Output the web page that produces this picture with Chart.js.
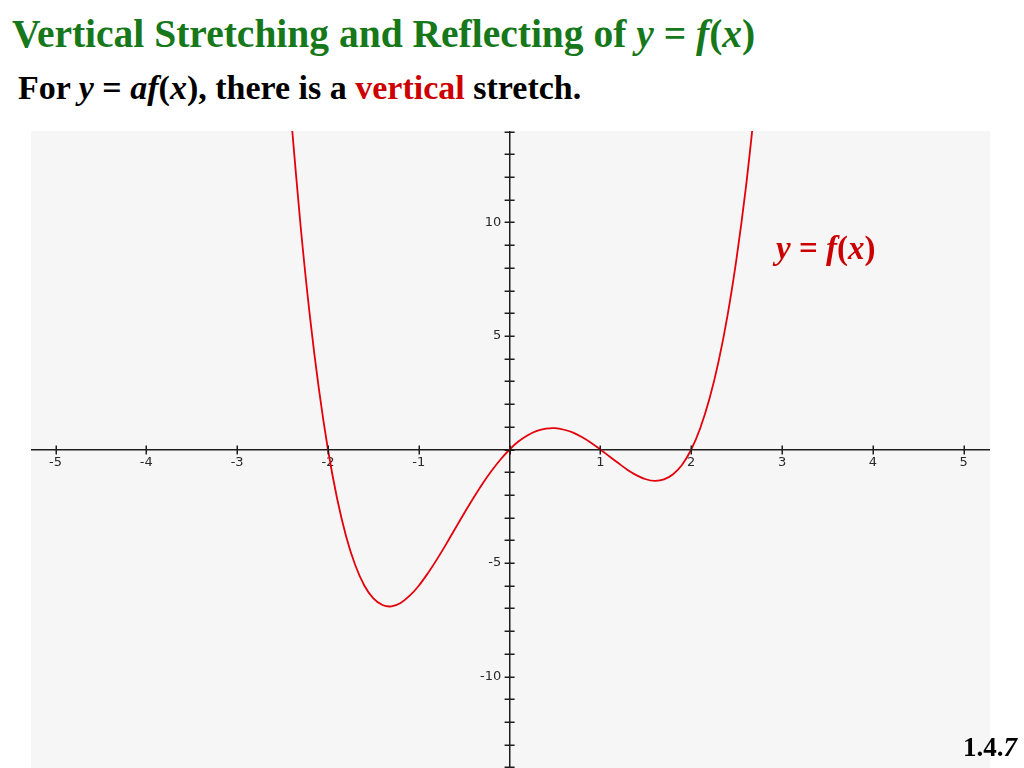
<!DOCTYPE html>
<html>
<head>
<meta charset="utf-8">
<script src="https://cdn.jsdelivr.net/npm/chart.js@4.4.1/dist/chart.umd.min.js"></script>
<style>
  body { margin: 0; width: 1024px; height: 768px; background: #fff; position: relative; overflow: hidden; }
  .txt { position: absolute; font-family: "Liberation Serif", "Times New Roman", serif; font-weight: bold; line-height: 1; white-space: nowrap; }
  #title { left: 12px; top: 15px; font-size: 39.5px; color: #16781a; }
  #sub { left: 18px; top: 71px; font-size: 34px; color: #000; }
  #sub .red { color: #cc0000; }
  #fx { left: 776px; top: 232px; font-size: 33px; color: #cc0000; }
  #page { left: 963px; top: 734px; font-size: 27px; color: #000; }
  #wrap { position: absolute; left: 31px; top: 131px; width: 959px; height: 637px; background: #f6f6f6; }
</style>
</head>
<body>
<div class="txt" id="title">Vertical Stretching and Reflecting of <i>y</i> = <i>f</i>(<i>x</i>)</div>
<div class="txt" id="sub">For <i>y</i> = <i>af</i>(<i>x</i>), there is a <span class="red">vertical</span> stretch.</div>
<div id="wrap"><canvas id="chart"></canvas></div>
<div class="txt" id="fx"><i>y</i> = <i>f</i>(<i>x</i>)</div>
<div class="txt" id="page">1.4.<i>7</i></div>
<script>
"use strict";

// axis window
var xMin = -5.27, xMax = 5.29;
var yMin = -14.03, yMax = 14.03;

// sampled points of the red curve
var curveX = [-2.4, -2.3, -2.2, -2.1, -2.0, -1.9, -1.8, -1.7, -1.6, -1.5, -1.4, -1.3, -1.2, -1.1, -1.0,
  -0.9, -0.8, -0.7, -0.6, -0.5, -0.4, -0.3, -0.2, -0.1, 0.0, 0.1, 0.2, 0.3, 0.4, 0.5, 0.6, 0.7, 0.8, 0.9,
  1.0, 1.1, 1.2, 1.3, 1.4, 1.5, 1.6, 1.7, 1.8, 1.9, 2.0, 2.1, 2.2, 2.3, 2.4, 2.5, 2.6, 2.7];
var curveY = [14.36, 9.79, 5.91, 2.67, 0, -2.15, -3.83, -5.09, -5.99, -6.56, -6.85, -6.91, -6.76, -6.44, -6.0,
  -5.45, -4.84, -4.18, -3.49, -2.81, -2.15, -1.52, -0.95, -0.44, 0, 0.36, 0.63, 0.82, 0.92, 0.94, 0.87, 0.74, 0.54, 0.29,
  0, -0.31, -0.61, -0.90, -1.14, -1.31, -1.38, -1.32, -1.09, -0.67, 0, 0.95, 2.22, 3.86, 5.91, 8.44, 11.48, 15.10];

var AXIS = "#1e1e1e";
var TICK_FONT = { family: "DejaVu Sans", size: 13 };

function $(id) { return document.getElementById(id); }

// small tick marks that cross the axis line on both sides
var crossTicks = {
  id: "crossTicks",
  afterDraw: function (chart) {
    var ctx = chart.ctx, sx = chart.scales.x, sy = chart.scales.y;
    var ox = sx.getPixelForValue(0), oy = sy.getPixelForValue(0);
    ctx.save();
    ctx.strokeStyle = AXIS;
    ctx.lineWidth = 1.5;
    ctx.beginPath();
    sx.ticks.forEach(function (t) {
      var px = Math.round(sx.getPixelForValue(t.value)) + 0.25;
      ctx.moveTo(px, oy - 4); ctx.lineTo(px, oy + 5);
    });
    sy.ticks.forEach(function (t) {
      var py = Math.round(sy.getPixelForValue(t.value)) + 0.25;
      ctx.moveTo(ox - 5, py); ctx.lineTo(ox + 5, py);
    });
    ctx.stroke();
    ctx.restore();
  },
};

function zeroPad(scale) {
  scale.paddingTop = 0; scale.paddingBottom = 0;
  scale.paddingLeft = 0; scale.paddingRight = 0;
}

var points = curveX.map(function (x, i) { return { x: x, y: curveY[i] }; });

new Chart($("chart"), {
  type: "line",
  data: {
    datasets: [{
      data: points,
      borderColor: "#e3000b",
      borderWidth: 1.8,
      pointRadius: 0,
      tension: 0.35,
      fill: false,
    }],
  },
  options: {
    responsive: true, maintainAspectRatio: false,
    animation: false,
    layout: { padding: 0 },
    events: [],
    plugins: { legend: { display: false }, tooltip: { enabled: false } },
    scales: {
      x: {
        type: "linear",
        position: { y: 0 },
        min: xMin, max: xMax,
        grid: { display: false, drawTicks: false },
        border: { display: true, color: AXIS, width: 1.5 },
        afterFit: zeroPad,
        ticks: {
          stepSize: 1, includeBounds: false, padding: 5, maxRotation: 0, autoSkip: false,
          color: "#2a2a2a", font: TICK_FONT,
          callback: function (v) { return v === 0 ? "" : String(v); },
        },
      },
      y: {
        type: "linear",
        position: { x: 0 },
        min: yMin, max: yMax,
        grid: { display: false, drawTicks: false },
        border: { display: true, color: AXIS, width: 1.5 },
        afterFit: zeroPad,
        ticks: {
          stepSize: 1, includeBounds: false, autoSkip: false,
          color: "#2a2a2a", font: TICK_FONT,
          callback: function (v) { return (v !== 0 && v % 5 === 0) ? String(v) + "  " : ""; },
        },
      },
    },
  },
  plugins: [crossTicks],
});
</script>
</body>
</html>
